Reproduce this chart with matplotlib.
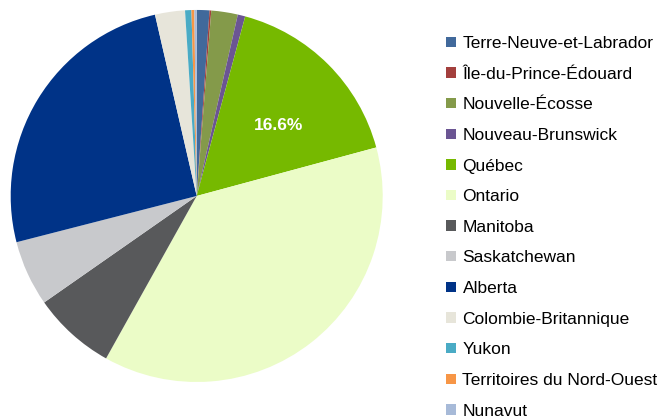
import matplotlib
matplotlib.use("Agg")
import matplotlib.pyplot as plt

provinces = ["Terre-Neuve-et-Labrador", "Île-du-Prince-Édouard", "Nouvelle-Écosse",
             "Nouveau-Brunswick", "Québec", "Ontario", "Manitoba", "Saskatchewan",
             "Alberta", "Colombie-Britannique", "Yukon", "Territoires du Nord-Ouest", "Nunavut"]
shares = [1.1, 0.15, 2.3, 0.65, 16.6, 37.3, 7.2, 5.7, 25.4, 2.6, 0.55, 0.25, 0.2]
colors = ["#41699b", "#a33f3d", "#849a4a", "#6b5593", "#76b900", "#ebfcc7", "#58595b",
          "#c8c9cc", "#003387", "#e7e5da", "#4aabc5", "#f79646", "#a7bad8"]
shown_label = "Québec"

plt.rcParams['font.family'] = ['Liberation Sans', 'DejaVu Sans']
fig = plt.figure(figsize=(6.72, 4.19), dpi=100)
ax = fig.add_axes([0.0159, 0.0883, 0.5536, 0.888])

def fmt(p, it=iter(provinces)):
    name = next(it)
    return f"{p:.1f}%" if name == shown_label else ""

wedges, texts, autotexts = ax.pie(shares, colors=colors, startangle=90, counterclock=False,
                                  autopct=fmt, pctdistance=0.58,
                                  textprops=dict(color="white", fontsize=12.5, fontweight="bold"))
ax.set_xlim(-1, 1)
ax.set_ylim(-1, 1)
ax.set_aspect("equal")
for t in autotexts:
    if t.get_text():
        x, y = t.get_position()
        t.set_position((x + 0.03, y - 0.03))

leg = fig.legend(wedges, provinces, loc="upper left",
                 bbox_to_anchor=(446/672, 1 - 36/419), frameon=False,
                 fontsize=12.5, handlelength=0.55, handleheight=0.55,
                 handletextpad=0.4, labelspacing=0.9, borderaxespad=0, borderpad=0)
fig.savefig("out.png", dpi=100)
